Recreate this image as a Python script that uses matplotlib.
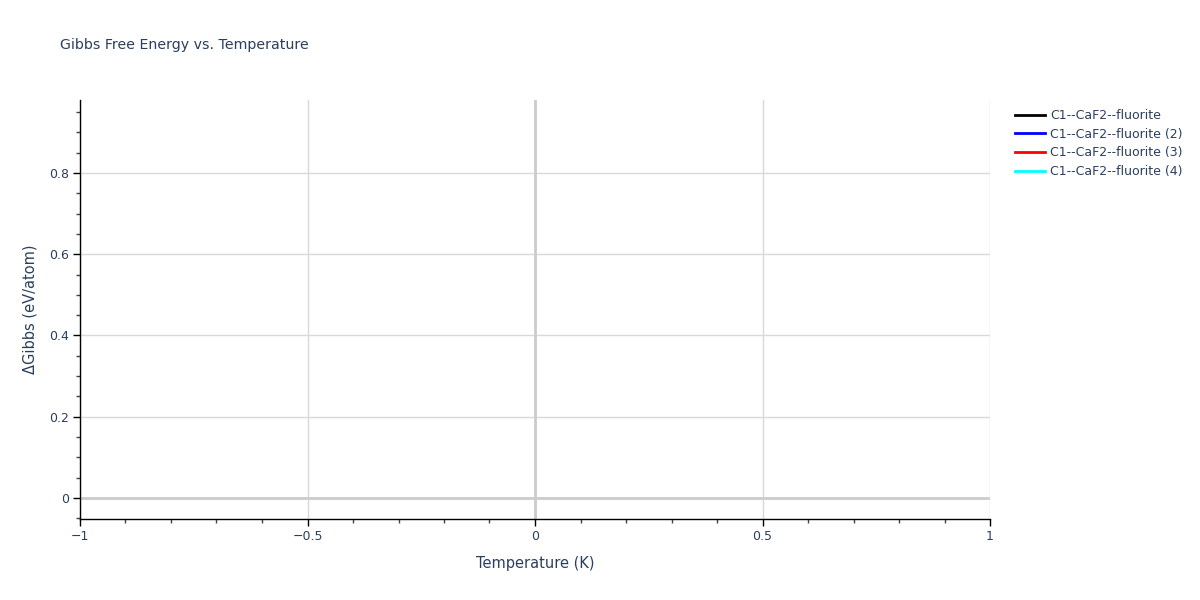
import matplotlib
matplotlib.use("Agg")
import matplotlib.pyplot as plt
from matplotlib.ticker import MultipleLocator
from matplotlib.lines import Line2D

# Data: each series holds a single point (nothing visible in line mode)
series_names = ["C1--CaF2--fluorite", "C1--CaF2--fluorite (2)",
                "C1--CaF2--fluorite (3)", "C1--CaF2--fluorite (4)"]
series_colors = ["black", "blue", "red", "cyan"]
temperature = [0.0]
gibbs_1 = [0.0]
gibbs_2 = [0.0]
gibbs_3 = [0.0]
gibbs_4 = [0.0]
gibbs_all = [gibbs_1, gibbs_2, gibbs_3, gibbs_4]

x_range = (-1, 1)
y_range = (-0.052, 0.98)

txt = "#2a3f5f"
plt.rcParams['font.family'] = ['DejaVu Sans']

fig = plt.figure(figsize=(12, 6), dpi=100)
ax = fig.add_axes([80/1200, 1-519/600, 910/1200, 419/600])

for name, color, g in zip(series_names, series_colors, gibbs_all):
    ax.plot(temperature, g, color=color, lw=2, label=name)

ax.set_xlim(*x_range)
ax.set_ylim(*y_range)

ax.xaxis.set_major_locator(MultipleLocator(0.5))
ax.xaxis.set_minor_locator(MultipleLocator(0.1))
ax.yaxis.set_major_locator(MultipleLocator(0.2))
ax.yaxis.set_minor_locator(MultipleLocator(0.05))

def fmt(v, _):
    if abs(v) < 1e-9:
        return "0"
    s = f"{v:g}"
    return s.replace("-", "\u2212")

ax.xaxis.set_major_formatter(plt.FuncFormatter(fmt))
ax.yaxis.set_major_formatter(plt.FuncFormatter(fmt))

ax.grid(True, which='major', color='#d9d9d9', lw=1)
ax.axhline(0, color='#cccccc', lw=2, zorder=1)
ax.axvline(0, color='#cccccc', lw=2, zorder=1)

for s in ['top', 'right']:
    ax.spines[s].set_visible(False)
for s in ['left', 'bottom']:
    ax.spines[s].set_color('black')
    ax.spines[s].set_linewidth(1)

ax.tick_params(which='major', direction='out', length=5, width=1, color='black',
               labelsize=9, labelcolor=txt, pad=3)
ax.tick_params(which='minor', direction='out', length=3, width=1, color='#444444')
ax.set_axisbelow(True)

ax.set_xlabel("Temperature (K)", fontsize=10.5, color=txt, labelpad=9)
ax.set_ylabel("\u0394Gibbs (eV/atom)", fontsize=10.5, color=txt, labelpad=8)

fig.text(60/1200, 1-45/600, "Gibbs Free Energy vs. Temperature", fontsize=10.2,
         color=txt, va='center', ha='left')

handles = [Line2D([0], [0], color=c, lw=2) for c in series_colors]
leg = fig.legend(handles, series_names, loc='upper left',
                 bbox_to_anchor=(1010/1200, 1-104/600), frameon=False,
                 fontsize=9, labelcolor=txt, handlelength=2.4,
                 handletextpad=0.4, labelspacing=0.45, borderaxespad=0)

fig.savefig("out.png", dpi=100)
